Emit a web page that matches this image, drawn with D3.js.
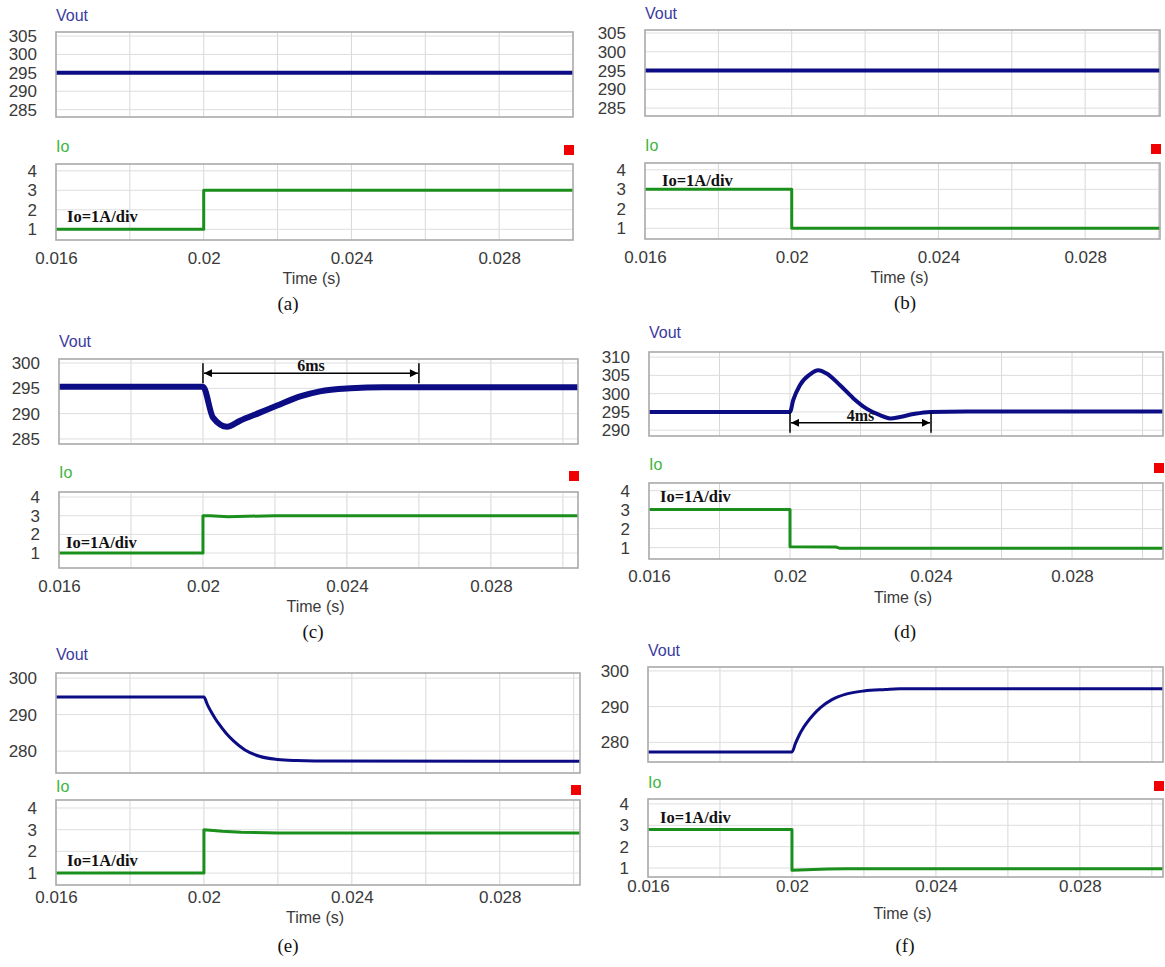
<!DOCTYPE html>
<html>
<head>
<meta charset="utf-8">
<script src="https://cdn.jsdelivr.net/npm/d3@7/dist/d3.min.js"></script>
<style>
  body { margin: 0; background: #fff; }
  .tick text { font-family: "Liberation Sans", Arial, sans-serif; font-size: 17px; fill: #3a3a3a; }
</style>
</head>
<body>
<div id="chart"></div>
<script>
// tick values
const timeTicks = [0.016, 0.02, 0.024, 0.028];
const gridTimes = [0.016, 0.018, 0.02, 0.022, 0.024, 0.026, 0.028, 0.03];
const voutTicksAB = [285, 290, 295, 300, 305];
const voutTicksC = [285, 290, 295, 300];
const voutTicksD = [290, 295, 300, 305, 310];
const voutTicksEF = [280, 290, 300];
const ioTicks = [1, 2, 3, 4];

// series [time (s), value]
const voutA = [[0.016, 295], [0.031, 295]];
const voutB = [[0.016, 295], [0.031, 295]];
const voutC = [[0.016, 295.3], [0.02, 295.3], [0.02028, 289.2], [0.02067, 287.4], [0.02103, 288.6],
  [0.02158, 290.2], [0.02206, 291.6], [0.0227, 293.4], [0.02325, 294.4], [0.0241, 295.0],
  [0.025, 295.2], [0.031, 295.2]];
const voutD = [[0.016, 295], [0.02, 295], [0.02009, 298.2], [0.02028, 302.3], [0.02057, 305.3],
  [0.0208, 306.4], [0.02104, 305.5], [0.02142, 302.3], [0.0218, 298.7], [0.02217, 295.9],
  [0.02255, 294.1], [0.02284, 293.2], [0.02312, 293.6], [0.0235, 294.4], [0.02397, 295.0],
  [0.025, 295.1], [0.031, 295.1]];
const voutE = [[0.016, 294.8], [0.02, 294.8], [0.0201, 292.6], [0.0202, 290.7], [0.0203, 289.0],
  [0.0204, 287.5], [0.0206, 284.9], [0.0208, 282.8], [0.0211, 280.4], [0.0215, 278.6],
  [0.022, 277.7], [0.0225, 277.4], [0.023, 277.3], [0.031, 277.2]];
const voutF = [[0.016, 277.3], [0.02, 277.3], [0.0201, 279.8], [0.0202, 282], [0.0203, 283.8],
  [0.0204, 285.3], [0.0206, 287.8], [0.0208, 289.8], [0.0211, 291.9], [0.0215, 293.5],
  [0.022, 294.4], [0.0226, 294.8], [0.023, 295], [0.031, 295]];
const ioA = [[0.016, 1], [0.02, 1], [0.02, 3], [0.031, 3]];
const ioB = [[0.016, 3], [0.02, 3], [0.02, 1], [0.031, 1]];
const ioC = [[0.016, 1], [0.02, 1], [0.02, 3], [0.0202, 3], [0.0207, 2.95], [0.022, 3.0], [0.031, 3.0]];
const ioD = [[0.016, 3], [0.02, 3], [0.02, 1.05], [0.0213, 1.03], [0.0214, 0.97], [0.031, 0.97]];
const ioE = [[0.016, 1], [0.02, 1], [0.02, 3.0], [0.0205, 2.93], [0.021, 2.88], [0.022, 2.85], [0.031, 2.85]];
const ioF = [[0.016, 2.8], [0.02, 2.8], [0.02, 0.9], [0.021, 0.95], [0.0215, 0.97], [0.031, 0.97]];

// annotations: [t start, t end, vout level, label]
const spanC = [0.02, 0.026, 298, "6ms"];
const spanD = [0.02, 0.024, 292, "4ms"];

const captions = ["(a)", "(b)", "(c)", "(d)", "(e)", "(f)"];

// layout of each panel
const panels = [
  { cap: captions[0], x0: 56, x1: 573, tEnd: 0.03, vBox: [32, 117], vDom: [283, 306.1], vTicks: voutTicksAB, vout: voutA, vW: 4,
    iBox: [164, 240], iDom: [0.45, 4.35], io: ioA, vLab: 21, iLab: 152, xLab: 265, timeY: 284, capY: 310, capX: 288, note: [67, 222] },
  { cap: captions[1], x0: 645, x1: 1160, tEnd: 0.03004, vBox: [30, 116], vDom: [282.9, 305.8], vTicks: voutTicksAB, vout: voutB, vW: 4,
    iBox: [163, 239], iDom: [0.45, 4.35], io: ioB, vLab: 19, iLab: 151, xLab: 264, timeY: 283, capY: 309, capX: 905, note: [662, 186] },
  { cap: captions[2], x0: 59, x1: 578, tEnd: 0.03042, vBox: [359, 444], vDom: [284, 300.8], vTicks: voutTicksC, vout: voutC, vW: 6,
    iBox: [492, 568], iDom: [0.2, 4.27], io: ioC, vLab: 347, iLab: 478, xLab: 593, timeY: 612, capY: 638, capX: 313, note: [66, 548], span: spanC },
  { cap: captions[3], x0: 649, x1: 1163, tEnd: 0.03058, vBox: [352, 436], vDom: [288.4, 311.4], vTicks: voutTicksD, vout: voutD, vW: 4,
    iBox: [483, 559], iDom: [0.4, 4.4], io: ioD, vLab: 338, iLab: 470, xLab: 583, timeY: 603, capY: 638, capX: 905, note: [660, 502], span: spanD },
  { cap: captions[4], x0: 56, x1: 580, tEnd: 0.03017, vBox: [673, 773], vDom: [274, 301.4], vTicks: voutTicksEF, vout: voutE, vW: 3,
    iBox: [800, 885], iDom: [0.45, 4.37], io: ioE, vLab: 660, iLab: 792, xLab: 904, timeY: 923, capY: 952, capX: 288, note: [67, 866] },
  { cap: captions[5], x0: 648, x1: 1163, tEnd: 0.03031, vBox: [667, 762], vDom: [274.5, 301.1], vTicks: voutTicksEF, vout: voutF, vW: 3,
    iBox: [799, 877], iDom: [0.58, 4.23], io: ioF, vLab: 656, iLab: 788, xLab: 893, timeY: 919, capY: 952, capX: 905, note: [660, 823] }
];

const svg = d3.select("#chart").append("svg")
  .attr("width", 1165).attr("height", 967)
  .style("font-family", "'Liberation Sans', Arial, sans-serif");

const defs = svg.append("defs");
["start", "end"].forEach(function (k) {
  defs.append("marker")
    .attr("id", "arrow-" + k)
    .attr("viewBox", "0 0 10 10")
    .attr("refX", k === "end" ? 10 : 0).attr("refY", 5)
    .attr("markerWidth", 12).attr("markerHeight", 8)
    .attr("markerUnits", "userSpaceOnUse")
    .attr("orient", "auto")
    .append("path")
    .attr("d", k === "end" ? "M0,0L10,5L0,10Z" : "M10,0L0,5L10,10Z")
    .attr("fill", "#000");
});

function drawBox(g, p, box, dom, ticks, data, color, lw, curve, id) {
  const x = d3.scaleLinear().domain([0.016, p.tEnd]).range([p.x0, p.x1]);
  const y = d3.scaleLinear().domain(dom).range([box[1], box[0]]);

  g.append("rect")
    .attr("x", p.x0).attr("y", box[0])
    .attr("width", p.x1 - p.x0).attr("height", box[1] - box[0])
    .attr("fill", "#fff");

  // grid
  g.selectAll(null).data(gridTimes.filter(t => t > 0.016 && t < p.tEnd)).join("line")
    .attr("x1", d => x(d)).attr("x2", d => x(d))
    .attr("y1", box[0]).attr("y2", box[1])
    .attr("stroke", "#d8d8d8").attr("stroke-width", 1);
  g.selectAll(null).data(ticks).join("line")
    .attr("x1", p.x0).attr("x2", p.x1)
    .attr("y1", d => y(d)).attr("y2", d => y(d))
    .attr("stroke", "#dedede").attr("stroke-width", 1);

  g.append("clipPath").attr("id", id).append("rect")
    .attr("x", p.x0).attr("y", box[0])
    .attr("width", p.x1 - p.x0).attr("height", box[1] - box[0]);

  const line = d3.line().x(d => x(d[0])).y(d => y(d[1])).curve(curve);
  g.append("path")
    .datum(data)
    .attr("clip-path", "url(#" + id + ")")
    .attr("d", line)
    .attr("fill", "none")
    .attr("stroke", color)
    .attr("stroke-width", lw)
    .attr("stroke-linejoin", "round");

  g.append("rect")
    .attr("x", p.x0).attr("y", box[0])
    .attr("width", p.x1 - p.x0).attr("height", box[1] - box[0])
    .attr("fill", "none").attr("stroke", "#a9a9a9").attr("stroke-width", 1.6);

  // y axis labels
  const ax = g.append("g")
    .attr("transform", `translate(${p.x0},0)`)
    .call(d3.axisLeft(y).tickValues(ticks).tickSize(0).tickPadding(19).tickFormat(d3.format("d")));
  ax.select(".domain").remove();

  return { x: x, y: y };
}

panels.forEach(function (p, i) {
  const g = svg.append("g");

  const v = drawBox(g, p, p.vBox, p.vDom, p.vTicks, p.vout, "#0c0c84", p.vW, d3.curveMonotoneX, "cv" + i);
  drawBox(g, p, p.iBox, p.iDom, ioTicks, p.io, "#1b8f1b", 3, d3.curveLinear, "ci" + i);

  // x axis labels
  const xa = g.append("g")
    .attr("transform", `translate(0,${p.xLab - 13})`)
    .call(d3.axisBottom(v.x).tickValues(timeTicks).tickSize(0).tickPadding(0).tickFormat(d3.format("")));
  xa.select(".domain").remove();
  xa.selectAll("text").attr("dy", "0.71em");

  g.append("text")
    .attr("x", (p.x0 + p.x1) / 2 - 3).attr("y", p.timeY)
    .attr("text-anchor", "middle")
    .style("font-size", "16px").style("fill", "#3a3a3a")
    .text("Time (s)");

  g.append("text").attr("x", p.x0).attr("y", p.vLab)
    .style("font-size", "16px").style("fill", "#3b3ba0").text("Vout");
  g.append("text").attr("x", p.x0).attr("y", p.iLab)
    .style("font-size", "16px").style("fill", "#3db53d").text("Io");

  g.append("rect")
    .attr("x", p.x1 - 9).attr("y", p.iLab - 7)
    .attr("width", 10).attr("height", 10)
    .attr("fill", "#f00000");

  g.append("text").attr("x", p.note[0]).attr("y", p.note[1])
    .style("font-family", "'Liberation Serif', 'Times New Roman', serif")
    .style("font-weight", "bold").style("font-size", "16.5px").style("fill", "#111")
    .text("Io=1A/div");

  g.append("text").attr("x", p.capX).attr("y", p.capY)
    .attr("text-anchor", "middle")
    .style("font-family", "'Liberation Serif', 'Times New Roman', serif")
    .style("font-size", "19px").style("fill", "#111")
    .text(p.cap);

  if (p.span) {
    const s = p.span;
    const xa0 = v.x(s[0]), xa1 = v.x(s[1]), ya = v.y(s[2]);
    [xa0, xa1].forEach(function (xx) {
      g.append("line").attr("x1", xx).attr("x2", xx)
        .attr("y1", ya - 10).attr("y2", ya + 10)
        .attr("stroke", "#000").attr("stroke-width", 1.5);
    });
    g.append("line")
      .attr("x1", xa0 + 1).attr("x2", xa1 - 1)
      .attr("y1", ya).attr("y2", ya)
      .attr("stroke", "#000").attr("stroke-width", 1.5)
      .attr("marker-start", "url(#arrow-start)")
      .attr("marker-end", "url(#arrow-end)");
    g.append("text")
      .attr("x", (xa0 + xa1) / 2).attr("y", ya - 2)
      .attr("text-anchor", "middle")
      .style("font-family", "'Liberation Serif', 'Times New Roman', serif")
      .style("font-weight", "bold").style("font-size", "16px").style("fill", "#111")
      .text(s[3]);
  }
});
</script>
</body>
</html>
